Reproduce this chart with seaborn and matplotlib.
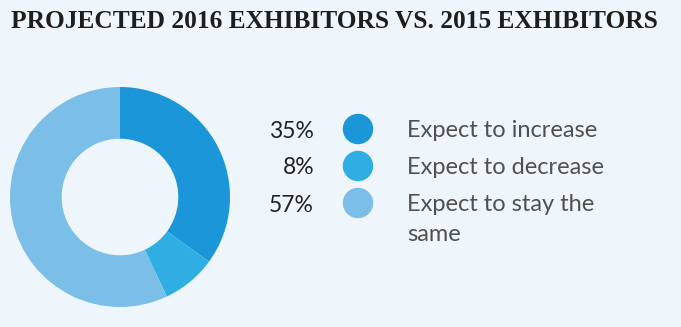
import matplotlib
matplotlib.use("Agg")
import matplotlib.pyplot as plt
import seaborn as sns
import pandas as pd

categories = ["Expect to increase", "Expect to decrease", "Expect to stay the\nsame"]
values = [35, 8, 57]
pct_labels = ["35%", "8%", "57%"]
colors = ["#1b96d8", "#2eaee2", "#7bbfe8"]
title = "PROJECTED 2016 EXHIBITORS VS. 2015 EXHIBITORS"

BG = "#eef6fc"
sns.set_theme(style="white")
plt.rcParams["font.family"] = ["Lato", "DejaVu Sans"]

W, H = 681, 327
fig = plt.figure(figsize=(W / 100, H / 100), dpi=100, facecolor=BG)

# donut
ax = fig.add_axes([10 / W, (H - 307) / H, 220 / W, 220 / H])
ax.set_facecolor(BG)
ax.pie(values, colors=colors, startangle=90, counterclock=False,
       radius=1.0, wedgeprops=dict(width=0.47, edgecolor="none"))
ax.set_xlim(-1, 1)
ax.set_ylim(-1, 1)
ax.set_aspect("equal")
ax.axis("off")

# legend overlay in pixel coordinates
lax = fig.add_axes([0, 0, 1, 1], facecolor="none")
row_y = [129, 166, 203]
df = pd.DataFrame({"x": [358] * len(categories), "y": row_y, "cat": categories})
sns.scatterplot(data=df, x="x", y="y", hue="cat", palette=colors, s=480,
                edgecolor="none", legend=False, ax=lax)
lax.set_xlim(0, W)
lax.set_ylim(H, 0)
lax.axis("off")
for y, p, c in zip(row_y, pct_labels, categories):
    lax.text(314, y + 2, p, ha="right", va="center", fontsize=16.5,
             color="#222222", fontweight="normal")
    lax.text(407, y - 9, c, ha="left", va="top", fontsize=17,
             color="#505050", fontweight="normal", linespacing=1.55)

t = fig.text(11 / W, 1 - 21 / H, title, ha="left", va="center",
             fontsize=20, fontweight="bold", color="#1e1e1e",
             family=["Liberation Serif"])
fig.canvas.draw()
w = t.get_window_extent().width
t.set_fontsize(20 * 643 / w)

fig.savefig("out.png", dpi=100, facecolor=BG)
